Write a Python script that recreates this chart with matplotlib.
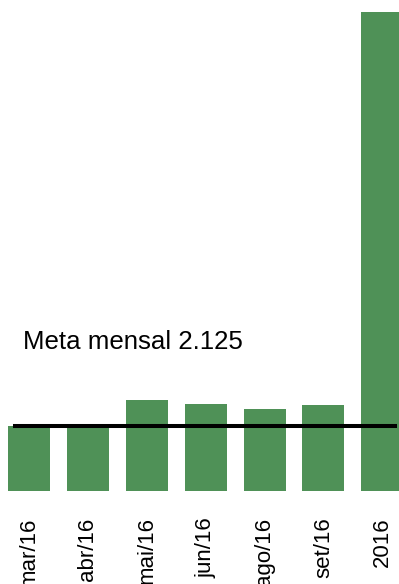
import matplotlib.pyplot as plt

# Data
categories = ["mar/16", "abr/16", "mai/16", "jun/16", "ago/16", "set/16", "2016"]
values = [2110, 2090, 2990, 2840, 2690, 2800, 15660]
meta = 2125
meta_label = "Meta mensal 2.125"

plt.rcParams['font.family'] = ['Liberation Sans', 'DejaVu Sans']

fig = plt.figure(figsize=(3.99, 5.84), dpi=100)
ax = fig.add_axes([0, 0.1592, 1, 0.8408])

x = range(len(categories))
ax.bar(x, values, width=0.713, color="#4f9157")

# meta line
ax.plot([-0.238, len(categories) - 0.786], [meta, meta], color="black", linewidth=2.9)
ax.text(-0.10, 4640, meta_label, fontsize=18.6, va="baseline", ha="left")

ax.set_xlim(-0.492, 6.282)
ax.set_ylim(0, 16052)
ax.set_xticks(list(x))
ax.set_xticklabels(categories, rotation=90, fontsize=16)
ax.tick_params(axis="x", length=0, pad=19)
ax.set_yticks([])
for s in ax.spines.values():
    s.set_visible(False)

fig.savefig("out.png", dpi=100)
